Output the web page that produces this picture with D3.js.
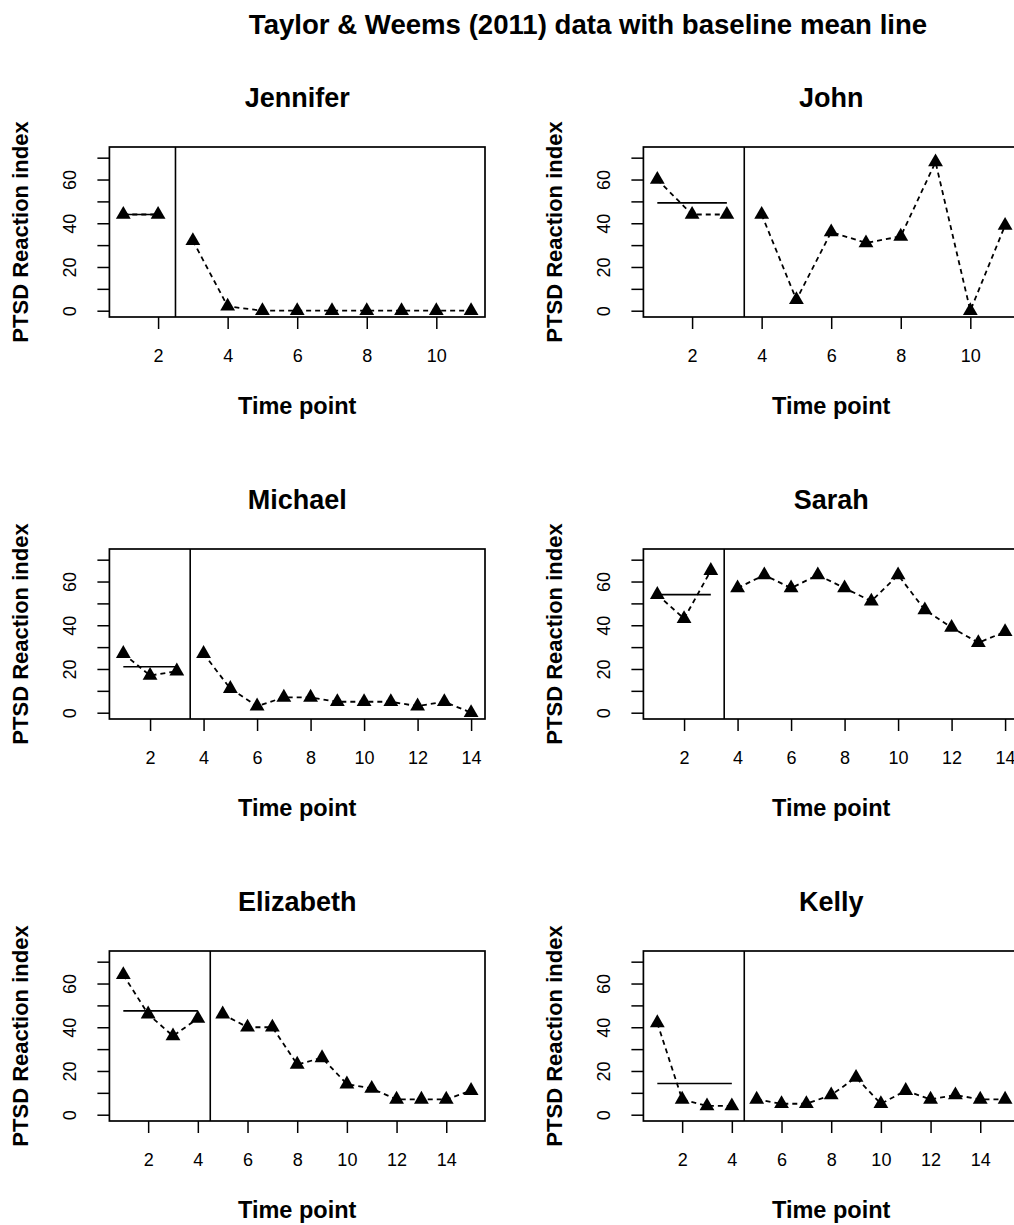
<!DOCTYPE html>
<html><head><meta charset="utf-8">
<script src="https://cdn.jsdelivr.net/npm/d3@7"></script>
<style>
body{margin:0;background:#fff;overflow:hidden}
svg{display:block;font-family:"Liberation Sans",Arial,Helvetica,sans-serif}
</style>
</head><body>
<script>
// ---------- data ----------
const chartTitle = "Taylor & Weems (2011) data with baseline mean line";
const participants = ["Jennifer", "John", "Michael", "Sarah", "Elizabeth", "Kelly"];
const baselineLengths = [2, 3, 3, 3, 4, 4];
const jennifer  = [44, 44, 32, 2, 0, 0, 0, 0, 0, 0, 0];
const john      = [60, 44, 44, 44, 5, 36, 31, 34, 68, 0, 39];
const michael   = [27, 17, 19, 27, 11, 3, 7, 7, 5, 5, 5, 3, 5, 0];
const sarah     = [54, 43, 65, 57, 63, 57, 63, 57, 51, 63, 47, 39, 32, 37];
const elizabeth = [64, 46, 36, 44, 46, 40, 40, 23, 26, 14, 12, 7, 7, 7, 11];
const kelly     = [42, 7, 4, 4, 7, 5, 5, 9, 17, 5, 11, 7, 9, 7, 7];
const seriesValues = [jennifer, john, michael, sarah, elizabeth, kelly];
const xTickValues = [2, 4, 6, 8, 10, 12, 14];
const yTickValues = [0, 10, 20, 30, 40, 50, 60, 70];
const yTickLabels = [0, 20, 40, 60];
const yLimits = [0, 72];
const xAxisTitle = "Time point";
const yAxisTitle = "PTSD Reaction index";

// ---------- layout ----------
const W = 1014, H = 1225;
const colLeft = [109.4, 643.4];
const rowTop = [147, 549, 951];
const pw = 375.6, ph = 170;

const svg = d3.select("body").append("svg").attr("width", W).attr("height", H);
svg.append("rect").attr("width", W).attr("height", H).attr("fill", "#fff");

svg.append("text").attr("x", 588).attr("y", 34)
  .attr("text-anchor", "middle").attr("font-weight", "bold").attr("font-size", 27.6)
  .text(chartTitle);

const tri = s => `M0,${-1.555*s}L${1.347*s},${0.778*s}L${-1.347*s},${0.778*s}Z`;

participants.forEach((name, i) => {
  const vals = seriesValues[i];
  const nb = baselineLengths[i];
  const n = vals.length;
  const col = i % 2, row = Math.floor(i / 2);
  const g = svg.append("g").attr("transform", `translate(${colLeft[col]},${rowTop[row]})`);

  const ext = 0.04 * (n - 1);
  const x = d3.scaleLinear().domain([1 - ext, n + ext]).range([0, pw]);
  const yr = yLimits[1] - yLimits[0];
  const y = d3.scaleLinear().domain([yLimits[0] - 0.04 * yr, yLimits[1] + 0.04 * yr]).range([ph, 0]);

  const data = vals.map((v, k) => ({t: k + 1, v, phase: k < nb ? 0 : 1}));

  // axes
  const xa = d3.axisBottom(x).tickValues(xTickValues.filter(t => t <= n)).tickSize(12).tickSizeOuter(0);
  const gx = g.append("g").attr("transform", `translate(0,${ph})`).call(xa);
  gx.select(".domain").remove();
  gx.selectAll("line").attr("stroke", "#000").attr("stroke-width", 1.5);
  gx.selectAll("text").attr("y", 45).attr("dy", null).attr("font-size", 18)
    .attr("font-family", "Liberation Sans, Arial, sans-serif").attr("fill", "#000");

  const ya = d3.axisLeft(y).tickValues(yTickValues).tickSize(12).tickSizeOuter(0)
    .tickFormat(d => yTickLabels.includes(d) ? d : "");
  const gy = g.append("g").call(ya);
  gy.select(".domain").remove();
  gy.selectAll("line").attr("stroke", "#000").attr("stroke-width", 1.5);
  gy.selectAll("text").attr("x", null).attr("dy", null)
    .attr("transform", "translate(-33,0) rotate(-90)")
    .attr("text-anchor", "middle").attr("font-size", 18)
    .attr("font-family", "Liberation Sans, Arial, sans-serif").attr("fill", "#000");

  // phase change line
  g.append("line").attr("x1", x(nb + 0.5)).attr("x2", x(nb + 0.5))
    .attr("y1", 0).attr("y2", ph).attr("stroke", "#000").attr("stroke-width", 1.6);

  // baseline mean line
  const m = d3.mean(vals.slice(0, nb));
  g.append("line").attr("x1", x(1)).attr("x2", x(nb)).attr("y1", y(m)).attr("y2", y(m))
    .attr("stroke", "#000").attr("stroke-width", 1.6);

  // dashed data lines per phase
  const line = d3.line().x(d => x(d.t)).y(d => y(d.v));
  [0, 1].forEach(p => {
    g.append("path").datum(data.filter(d => d.phase === p))
      .attr("d", line).attr("fill", "none").attr("stroke", "#000")
      .attr("stroke-width", 1.8).attr("stroke-dasharray", "5,4");
  });

  // triangles
  g.selectAll(".pt").data(data).enter().append("path")
    .attr("transform", d => `translate(${x(d.t)},${y(d.v)})`)
    .attr("d", tri(5.5)).attr("fill", "#000");

  // box
  g.append("rect").attr("x", 0).attr("y", 0).attr("width", pw).attr("height", ph)
    .attr("fill", "none").attr("stroke", "#000").attr("stroke-width", 1.7);

  // titles
  g.append("text").attr("x", pw / 2).attr("y", -40).attr("text-anchor", "middle")
    .attr("font-weight", "bold").attr("font-size", 27).text(name);
  g.append("text").attr("x", pw / 2).attr("y", ph + 97).attr("text-anchor", "middle")
    .attr("font-weight", "bold").attr("font-size", 23.5).text(xAxisTitle);
  g.append("text").attr("transform", `translate(${28 - colLeft[0]},${ph / 2}) rotate(-90)`)
    .attr("text-anchor", "middle").attr("font-weight", "bold").attr("font-size", 22).text(yAxisTitle);
});
</script>
</body></html>
